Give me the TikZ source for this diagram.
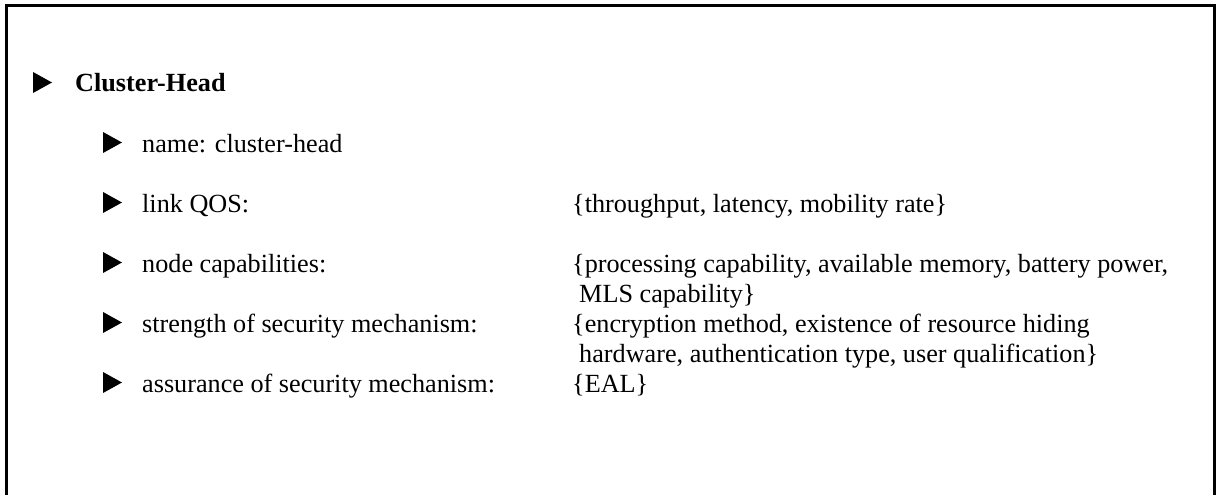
\documentclass[tikz,border=0pt]{standalone}
\usepackage{fontspec}
\setmainfont{Liberation Serif}
\begin{document}
\begin{tikzpicture}[x=1pt,y=-1pt]
\tikzset{
  boxline/.style={line width=3pt, line join=miter},
  itemtext/.style={anchor=base west, inner sep=0pt, font=\fontsize{26.2}{30}\selectfont},
  headtext/.style={itemtext, font=\fontsize{26.2}{30}\selectfont\bfseries},
  bullet/.pic={\fill (0,-20) -- (19,-9.5) -- (0,1) -- cycle;}
}
\useasboundingbox (0,0) rectangle (1223,495);
% open frame: left, top and right sides only
\draw[boxline] (6.7,505) -- (6.7,5.7) -- (1214.7,5.7) -- (1214.7,505);

% heading
\pic at (33,92) {bullet};
\node[headtext] (head) at (75,92) {Cluster-Head};

% attributes
\pic at (103,152) {bullet};
\node[itemtext] (name) at (142,152) {name: cluster-head};

\pic at (103,212) {bullet};
\node[itemtext] (qos) at (142,212) {link QOS:};
\node[itemtext] (qosv) at (572,212) {\{throughput, latency, mobility rate\}};

\pic at (103,272) {bullet};
\node[itemtext] (cap) at (142,272) {node capabilities:};
\node[itemtext] (capv1) at (572,272) {\{processing capability, available memory, battery power,};
\node[itemtext] (capv2) at (579,302) {MLS capability\}};

\pic at (103,332) {bullet};
\node[itemtext] (str) at (142,332) {strength of security mechanism:};
\node[itemtext] (strv1) at (572,332) {\{encryption method, existence of resource hiding};
\node[itemtext] (strv2) at (579,362) {hardware, authentication type, user qualification\}};

\pic at (103,392) {bullet};
\node[itemtext] (asr) at (142,392) {assurance of security mechanism:};
\node[itemtext] (asrv) at (572,392) {\{EAL\}};
\end{tikzpicture}
\end{document}
